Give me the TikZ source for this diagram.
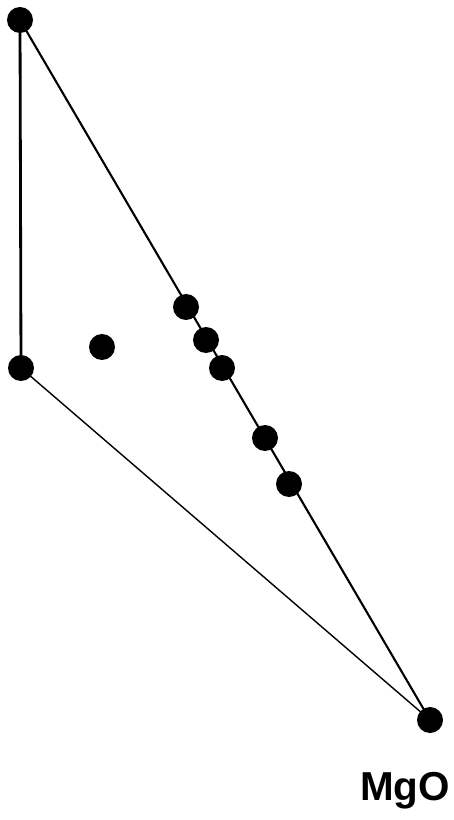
\documentclass[tikz,border=0pt]{standalone}
\usepackage{fontspec}
\setmainfont{Liberation Sans}
\usetikzlibrary{positioning}

\begin{document}
\begin{tikzpicture}[x=0.02cm,y=-0.02cm,font=\fontsize{23}{25}\selectfont\bfseries,
  pt/.style={circle,fill=black,inner sep=0pt,minimum size=0.52cm}]
\useasboundingbox (0,0) rectangle (453,820);
\foreach \n/\x/\y in {top/20/20,left/21/368,mgo/430/720,free/102/347,d1/186/307,d2/206/340,d3/222/368,d4/265/438,d5/289/484}{\node[pt] (\n) at (\x,\y){};}
\draw[line width=1.6pt] (top.center)--(left.center);
\draw[line width=1.2pt] (top.center)--(mgo.center);
\draw[line width=0.8pt] (left.center)--(mgo.center);
\node[anchor=base] (lbl) at (405,800){MgO};
\end{tikzpicture}
\end{document}
